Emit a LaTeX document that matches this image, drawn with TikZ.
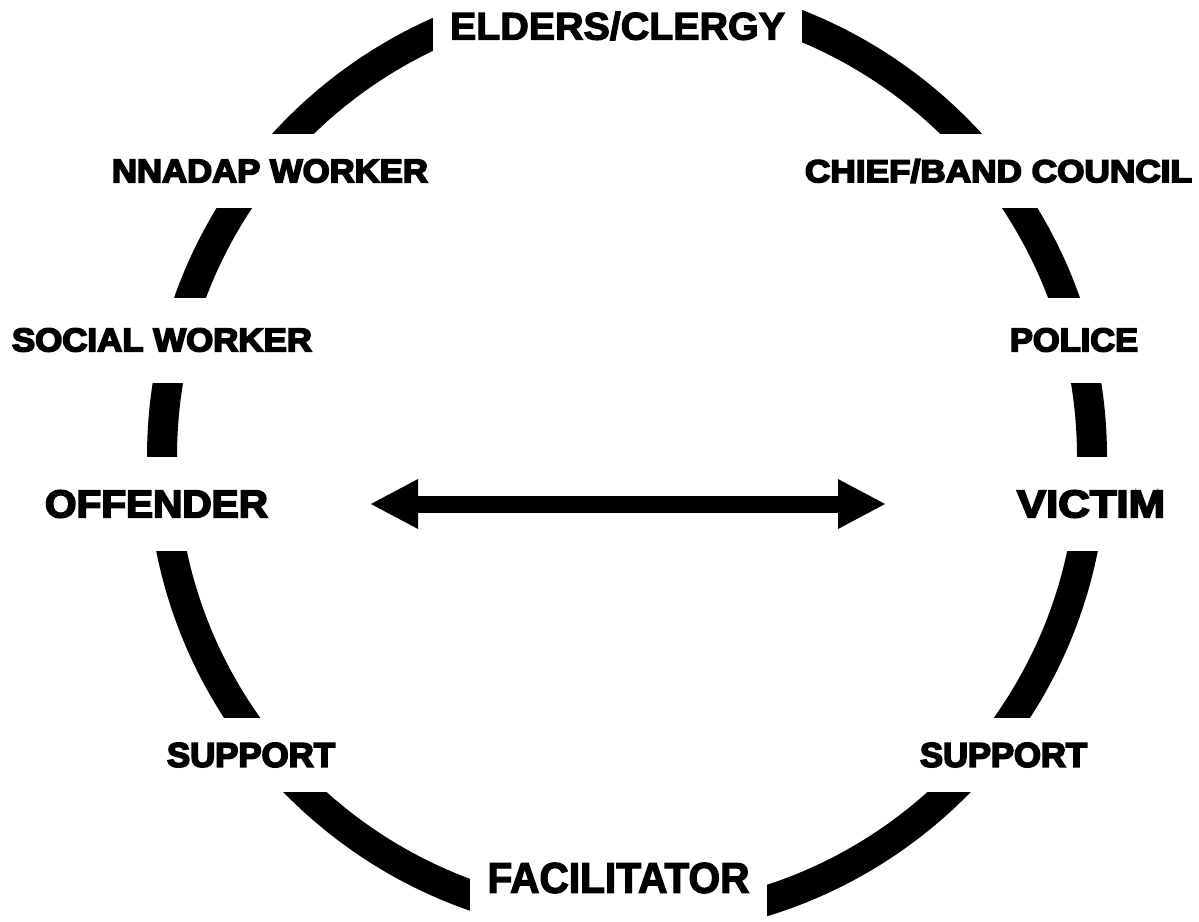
\documentclass[tikz,border=0pt]{standalone}
\usepackage{fontspec}
\usepackage{graphicx}
\usetikzlibrary{arrows.meta}
\setmainfont{Liberation Sans}
\newfontfamily\heavyfont{Liberation Sans}[BoldFeatures={FakeBold=5}]
\newfontfamily\bigfont{Liberation Sans}[BoldFeatures={FakeBold=4.5}]
\newfontfamily\narrowfont{Liberation Sans}[BoldFeatures={FakeBold=3}]
\newcommand\fitlbl[3]{\resizebox{#1pt}{#2pt}{#3}}
\tikzset{
  ring/.style={draw=black, line width=30pt},
  gap/.style={fill=white, inner sep=0pt, anchor=center},
  biarrow/.style={line width=17pt,
    {Triangle[length=47pt,width=50pt,line width=0pt]}-{Triangle[length=47pt,width=50pt,line width=0pt]}},
}
\begin{document}
\begin{tikzpicture}[x=1pt,y=-1pt]
\useasboundingbox (0,0) rectangle (1199,921);
\fill[white] (0,0) rectangle (1199,921);
\coordinate (c) at (627,457);
\draw[ring] (c) circle[radius=465pt];
% top and bottom
\node[gap, minimum width=369pt, minimum height=110pt] (elders) at (617.5,26)
  {\fitlbl{335}{28}{\narrowfont\bfseries ELDERS/CLERGY}};
\node[gap, minimum width=297pt, minimum height=124pt] (facil) at (618.5,878)
  {\fitlbl{262}{30}{\narrowfont\bfseries FACILITATOR}};
% row 1
\node[gap, minimum height=74pt] (nnadap) at (270,171)
  {\fitlbl{316}{23}{\heavyfont\bfseries NNADAP WORKER}};
\node[gap, minimum height=74pt] (chief) at (998.5,171)
  {\fitlbl{387}{23}{\heavyfont\bfseries CHIEF/BAND COUNCIL}};
% row 2
\node[gap, minimum height=85pt] (social) at (162,340)
  {\fitlbl{300}{23}{\heavyfont\bfseries SOCIAL WORKER}};
\node[gap, minimum height=85pt] (police) at (1074,340)
  {\fitlbl{128}{23}{\heavyfont\bfseries POLICE}};
% row 3
\node[gap, minimum height=94pt] (offender) at (156.5,504)
  {\fitlbl{223}{27}{\bigfont\bfseries OFFENDER}};
\node[gap, minimum height=94pt] (victim) at (1091,504)
  {\fitlbl{148}{27}{\bigfont\bfseries VICTIM}};
% row 4
\node[gap, minimum height=74pt] (suppL) at (251,755)
  {\fitlbl{168}{24}{\heavyfont\bfseries SUPPORT}};
\node[gap, minimum height=74pt] (suppR) at (1003.5,755)
  {\fitlbl{167}{24}{\heavyfont\bfseries SUPPORT}};
% arrow
\coordinate (al) at (371,504);
\coordinate (ar) at (885,504);
\draw[biarrow] (al) -- (ar);
\end{tikzpicture}
\end{document}
